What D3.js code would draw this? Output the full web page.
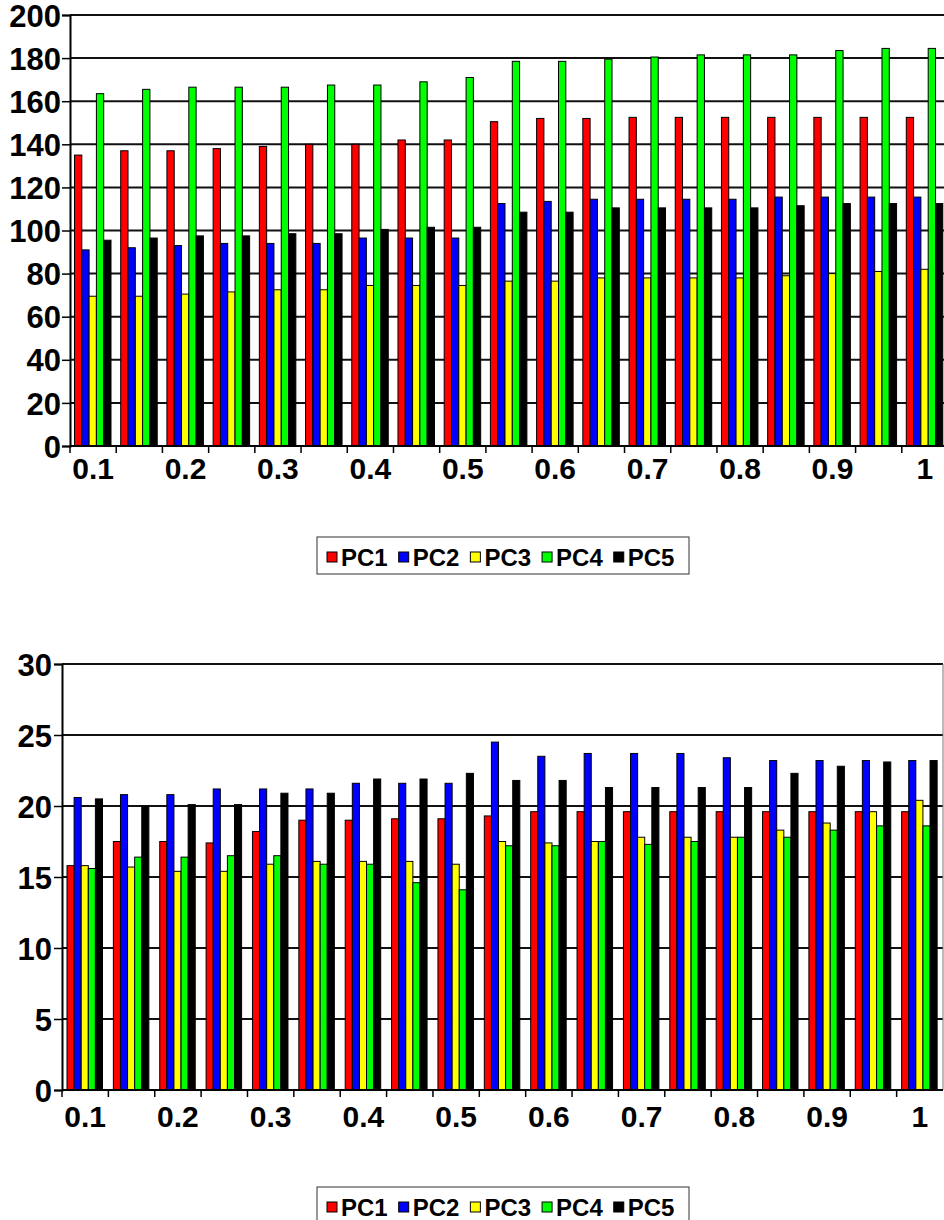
<!DOCTYPE html>
<html>
<head>
<meta charset="utf-8">
<script src="https://cdn.jsdelivr.net/npm/d3@7"></script>
<style>
    body { margin: 0; background: #fff; }
    svg text { font-family: "Liberation Sans", Arial, sans-serif; font-weight: bold; fill: #000; }
</style>
</head>
<body>
<svg id="vis_svg" width="944" height="1220"></svg>
<script>
// categories (every other one gets a label on the axis)
let categories = ['0.1', '0.15', '0.2', '0.25', '0.3', '0.35', '0.4', '0.45', '0.5', '0.55',
    '0.6', '0.65', '0.7', '0.75', '0.8', '0.85', '0.9', '0.95', '1'];
let seriesNames = ['PC1', 'PC2', 'PC3', 'PC4', 'PC5'];
let seriesColors = ['#ff0000', '#0000ff', '#ffff00', '#00ff00', '#000000'];

// top chart values
let topPC1 = [135, 137, 137, 138, 139, 140, 140, 142, 142, 150.5, 152, 152, 152.5, 152.5, 152.5, 152.5, 152.5, 152.5, 152.5];
let topPC2 = [91, 92, 93, 94, 94, 94, 96.5, 96.5, 96.5, 112.5, 113.5, 114.5, 114.5, 114.5, 114.5, 115.5, 115.5, 115.5, 115.5];
let topPC3 = [69.5, 69.5, 70.5, 71.5, 72.5, 72.5, 74.5, 74.5, 74.5, 76.5, 76.5, 78, 78, 78, 78, 79, 80, 81, 82];
let topPC4 = [163.5, 165.5, 166.5, 166.5, 166.5, 167.5, 167.5, 169, 171, 178.5, 178.5, 179.5, 180.5, 181.5, 181.5, 181.5, 183.5, 184.5, 184.5];
let topPC5 = [95.5, 96.5, 97.5, 97.5, 98.5, 98.5, 100.5, 101.5, 101.5, 108.5, 108.5, 110.5, 110.5, 110.5, 110.5, 111.5, 112.5, 112.5, 112.5];
let topTicks = [0, 20, 40, 60, 80, 100, 120, 140, 160, 180, 200];

// bottom chart values
let botPC1 = [15.8, 17.5, 17.5, 17.4, 18.2, 19.0, 19.0, 19.1, 19.1, 19.3, 19.6, 19.6, 19.6, 19.6, 19.6, 19.6, 19.6, 19.6, 19.6];
let botPC2 = [20.6, 20.8, 20.8, 21.2, 21.2, 21.2, 21.6, 21.6, 21.6, 24.5, 23.5, 23.7, 23.7, 23.7, 23.4, 23.2, 23.2, 23.2, 23.2];
let botPC3 = [15.8, 15.7, 15.4, 15.4, 15.9, 16.1, 16.1, 16.1, 15.9, 17.5, 17.4, 17.5, 17.8, 17.8, 17.8, 18.3, 18.8, 19.6, 20.4];
let botPC4 = [15.6, 16.4, 16.4, 16.5, 16.5, 15.9, 15.9, 14.6, 14.1, 17.2, 17.2, 17.5, 17.3, 17.5, 17.8, 17.8, 18.3, 18.6, 18.6];
let botPC5 = [20.5, 20.0, 20.1, 20.1, 20.9, 20.9, 21.9, 21.9, 22.3, 21.8, 21.8, 21.3, 21.3, 21.3, 21.3, 22.3, 22.8, 23.1, 23.2];
let botTicks = [0, 5, 10, 15, 20, 25, 30];

let svg;

/**
 * Set things up and draw both charts
 */
function prepVis() {
    svg = d3.select('svg#vis_svg');

    drawChart({
        series: [topPC1, topPC2, topPC3, topPC4, topPC5],
        ticks: topTicks,
        left: 70, right: 948, top: 15, bottom: 446,
        inner: [4.5, 41],
        yLabelGap: 9,
        labelY: 479,
        rightBorder: false,
        legendTop: 537
    });

    drawChart({
        series: [botPC1, botPC2, botPC3, botPC4, botPC5],
        ticks: botTicks,
        left: 62, right: 943, top: 664, bottom: 1090,
        inner: [5, 40.5],
        yLabelGap: 10,
        labelY: 1127,
        rightBorder: true,
        legendTop: 1187
    });
}

/**
 * Draw one grouped bar chart plus its legend
 * @param opt the settings for this chart
 */
function drawChart(opt) {
    let g = svg.append('g');

    let x = d3.scaleBand()
        .domain(categories)
        .range([opt.left, opt.right])
        .paddingInner(0)
        .paddingOuter(0);

    let xInner = d3.scaleBand()
        .domain(seriesNames)
        .range(opt.inner)
        .padding(0);

    let y = d3.scaleLinear()
        .domain([0, d3.max(opt.ticks)])
        .range([opt.bottom, opt.top]);

    // gridlines
    g.append('g')
        .selectAll('line')
        .data(opt.ticks.filter(t => t > 0))
        .enter()
        .append('line')
        .attr('x1', opt.left)
        .attr('x2', opt.right)
        .attr('y1', d => y(d))
        .attr('y2', d => y(d))
        .attr('stroke', '#111')
        .attr('stroke-width', 2);

    if (opt.rightBorder) {
        g.append('line')
            .attr('x1', opt.right).attr('x2', opt.right)
            .attr('y1', opt.top).attr('y2', opt.bottom)
            .attr('stroke', '#777')
            .attr('stroke-width', 1);
    }

    // bars
    let rows = categories.map(function(cat, i) {
        return seriesNames.map((name, s) => ({cat: cat, name: name, color: seriesColors[s], value: opt.series[s][i]}));
    });

    let groups = g.append('g')
        .selectAll('g')
        .data(rows)
        .enter()
        .append('g')
        .attr('transform', (d, i) => translate(x(categories[i]), 0));

    groups.selectAll('rect')
        .data(d => d)
        .enter()
        .append('rect')
        .attr('x', d => xInner(d.name))
        .attr('width', xInner.bandwidth())
        .attr('y', d => y(d.value))
        .attr('height', d => y(0) - y(d.value))
        .attr('fill', d => d.color)
        .attr('stroke', '#000')
        .attr('stroke-width', 1);

    // y axis
    let yAxis = d3.axisLeft(y)
        .tickValues(opt.ticks)
        .tickSize(8)
        .tickPadding(opt.yLabelGap - 8);

    let yg = g.append('g')
        .attr('transform', translate(opt.left, 0))
        .call(yAxis);
    yg.select('.domain').attr('stroke', '#000').attr('stroke-width', 2);
    yg.selectAll('.tick line').attr('stroke', '#000').attr('stroke-width', 1.5);
    yg.selectAll('.tick text')
        .attr('font-size', 31)
        .attr('dy', '0.36em');

    // x axis: baseline, ticks at group edges, every other label
    g.append('line')
        .attr('x1', opt.left).attr('x2', opt.right)
        .attr('y1', opt.bottom).attr('y2', opt.bottom)
        .attr('stroke', '#000')
        .attr('stroke-width', 2);

    g.append('g')
        .selectAll('line')
        .data(categories)
        .enter()
        .append('line')
        .attr('x1', d => x(d)).attr('x2', d => x(d))
        .attr('y1', opt.bottom).attr('y2', opt.bottom + 7)
        .attr('stroke', '#000')
        .attr('stroke-width', 1.5);

    g.append('g')
        .selectAll('text')
        .data(categories.filter((d, i) => i % 2 === 0))
        .enter()
        .append('text')
        .attr('x', d => x(d) + x.bandwidth() / 2)
        .attr('y', opt.labelY)
        .attr('text-anchor', 'middle')
        .attr('font-size', 30)
        .text(d => d);

    drawLegend(opt.legendTop);
}

/**
 * Draw a legend box
 * @param top where the box starts
 */
function drawLegend(top) {
    let lg = svg.append('g');
    let boxLeft = 317;
    let boxRight = 689;

    lg.append('rect')
        .attr('x', boxLeft)
        .attr('y', top)
        .attr('width', boxRight - boxLeft)
        .attr('height', 37)
        .attr('fill', '#fff')
        .attr('stroke', '#333')
        .attr('stroke-width', 1);

    let cursor = boxLeft + 10;
    seriesNames.forEach(function(name, i) {
        lg.append('rect')
            .attr('x', cursor)
            .attr('y', top + 15)
            .attr('width', 10)
            .attr('height', 10)
            .attr('fill', seriesColors[i])
            .attr('stroke', '#000')
            .attr('stroke-width', 1);
        let t = lg.append('text')
            .attr('x', cursor + 14)
            .attr('y', top + 29)
            .attr('font-size', 24)
            .text(name);
        cursor += 14 + t.node().getComputedTextLength() + 11;
    });
}

/**
 * Helpful translate method
 */
function translate(x, y) {
    return 'translate(' + String(x) + ',' + String(y) + ')';
}

prepVis();
</script>
</body>
</html>
